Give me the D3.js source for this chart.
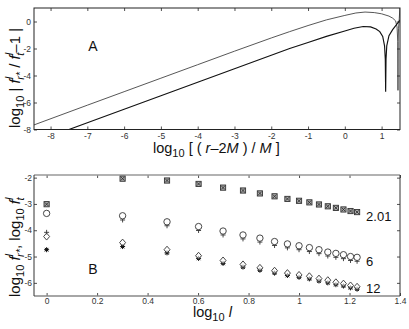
<!DOCTYPE html>
<html><head><meta charset="utf-8">
<script src="https://cdn.jsdelivr.net/npm/d3@7"></script>
<style>
body{margin:0;background:#fff;}
svg{display:block;font-family:"Liberation Sans",Arial,Helvetica,sans-serif;}
</style></head>
<body>
<script>
// ---------- Panel A data: log10|f_r*/f_t - 1| vs log10((r-2M)/M) ----------
const curveUpperX = [-8.45,-7,-6,-5,-4,-3,-2,-1.5,-1,-0.5,0,0.3,0.55,0.8,1.0,1.2,1.3,1.38,1.42,1.44,1.445,1.45,1.46,1.48,1.5];
const curveUpperY = [-7.66,-6.2,-5.2,-4.2,-3.2,-2.2,-1.22,-0.75,-0.3,0.12,0.45,0.63,0.70,0.66,0.57,0.40,0.25,0.05,-0.4,-1.5,-5.1,-1.5,-0.5,0.2,1.2];
const curveLowerX = [-7.5,-7,-6,-5,-4,-3,-2,-1.5,-1,-0.5,0,0.25,0.5,0.7,0.85,0.95,1.03,1.08,1.1,1.11,1.12,1.14,1.2,1.3,1.4,1.5];
const curveLowerY = [-8,-7.5,-6.5,-5.5,-4.5,-3.5,-2.5,-2.0,-1.55,-1.1,-0.7,-0.5,-0.37,-0.4,-0.55,-0.75,-1.1,-1.8,-2.8,-5.2,-2.8,-1.8,-1.05,-0.6,-0.25,0.1];
const ticksAX = [-8,-7,-6,-5,-4,-3,-2,-1,0,1];
const ticksAY = [0,-2,-4,-6,-8];

// ---------- Panel B data: log10 f vs log10 l (l = 1..17) ----------
const log10l = [0,0.301,0.477,0.602,0.699,0.778,0.845,0.903,0.954,1.0,1.041,1.079,1.114,1.146,1.176,1.204,1.230];
const r201_rstar = [-3.01,-2.04,-2.11,-2.24,-2.38,-2.49,-2.60,-2.71,-2.81,-2.88,-2.94,-3.02,-3.09,-3.15,-3.21,-3.27,-3.31];
const r201_t     = [-3.01,-2.04,-2.11,-2.24,-2.38,-2.49,-2.60,-2.71,-2.81,-2.88,-2.94,-3.02,-3.09,-3.15,-3.21,-3.27,-3.31];
const r6_rstar   = [-3.36,-3.45,-3.68,-3.86,-4.03,-4.18,-4.30,-4.43,-4.52,-4.59,-4.66,-4.74,-4.83,-4.88,-4.93,-5.00,-5.03];
const r6_t       = [-4.08,-3.61,-3.83,-4.01,-4.18,-4.33,-4.45,-4.58,-4.67,-4.74,-4.81,-4.89,-4.98,-5.03,-5.08,-5.15,-5.18];
const r12_rstar  = [-4.24,-4.47,-4.74,-4.97,-5.15,-5.30,-5.43,-5.54,-5.63,-5.70,-5.75,-5.84,-5.90,-5.98,-6.03,-6.10,-6.15];
const r12_t      = [-4.74,-4.62,-4.86,-5.07,-5.26,-5.40,-5.52,-5.63,-5.72,-5.79,-5.85,-5.93,-6.00,-6.07,-6.12,-6.19,-6.24];
const seriesLabels = ["2.01","6","12"];
const ticksBX = [0,0.2,0.4,0.6,0.8,1,1.2,1.4];
const ticksBY = [-2,-3,-4,-5,-6];

const W=409,H=329;
const svg=d3.select("body").append("svg").attr("width",W).attr("height",H);
svg.append("rect").attr("width",W).attr("height",H).attr("fill","#fff");
const fmt=d=>String(d);
const tickCol="#333";

function styleAxis(g){
  g.select(".domain").remove();
  g.selectAll(".tick line").attr("stroke","#222").attr("stroke-width",0.8);
  g.selectAll(".tick text").attr("fill",tickCol).attr("font-size",8.5).attr("font-family","Liberation Sans, Arial, sans-serif");
}

// ===== Panel A =====
const xA=d3.scaleLinear().domain([-8.45,1.5]).range([34,400]);
const yA=d3.scaleLinear().domain([-8,1]).range([129.5,8]);
const gA=svg.append("g");
svg.append("clipPath").attr("id","clipA").append("rect")
  .attr("x",34).attr("y",8).attr("width",366).attr("height",121.5);
const lineA=d3.line().x(d=>xA(d[0])).y(d=>yA(d[1]));
gA.append("path").datum(curveUpperX.map((x,i)=>[x,curveUpperY[i]]))
  .attr("d",lineA).attr("fill","none").attr("stroke","#444").attr("stroke-width",0.9).attr("clip-path","url(#clipA)");
gA.append("path").datum(curveLowerX.map((x,i)=>[x,curveLowerY[i]]))
  .attr("d",lineA).attr("fill","none").attr("stroke","#111").attr("stroke-width",1.15).attr("clip-path","url(#clipA)");
gA.append("g").attr("transform","translate(0,129.5)")
  .call(d3.axisBottom(xA).tickValues(ticksAX).tickSize(-3).tickPadding(3).tickFormat(fmt)).call(styleAxis);
gA.append("g").attr("transform","translate(0,8)")
  .call(d3.axisTop(xA).tickValues(ticksAX).tickSize(-3).tickFormat("")).call(styleAxis);
gA.append("g").attr("transform","translate(34,0)")
  .call(d3.axisLeft(yA).tickValues(ticksAY).tickSize(-3).tickPadding(3).tickFormat(fmt)).call(styleAxis);
gA.append("g").attr("transform","translate(400,0)")
  .call(d3.axisRight(yA).tickValues(ticksAY).tickSize(-3).tickFormat("")).call(styleAxis);
gA.append("rect").attr("x",34).attr("y",8).attr("width",366).attr("height",121.5)
  .attr("fill","none").attr("stroke","#222").attr("stroke-width",1);
gA.append("text").attr("x",93).attr("y",51).attr("font-size",14).attr("text-anchor","middle").attr("fill","#111").text("A");
// x label A
const xlA=gA.append("text").attr("x",153).attr("y",153).attr("font-size",14.5).attr("fill","#111");
xlA.append("tspan").text("log");
xlA.append("tspan").attr("font-size",11).attr("dy",4).text("10");
xlA.append("tspan").attr("dy",-4).text(" [ ( ");
xlA.append("tspan").attr("font-style","italic").text("r");
xlA.append("tspan").text("\u20132");
xlA.append("tspan").attr("font-style","italic").text("M");
xlA.append("tspan").text(" ) / ");
xlA.append("tspan").attr("font-style","italic").text("M");
xlA.append("tspan").text(" ]");
// y label A
const ylA=gA.append("text").attr("transform","translate(20,128) rotate(-90)").attr("font-size",15).attr("fill","#111");
ylA.append("tspan").text("log");
ylA.append("tspan").attr("font-size",11).attr("dy",4).text("10");
ylA.append("tspan").attr("dy",-4).text(" | ");
ylA.append("tspan").attr("font-style","italic").text("f");
ylA.append("tspan").attr("font-style","italic").attr("font-size",11).attr("dy",-7).text("l");
ylA.append("tspan").attr("font-style","italic").attr("font-size",11).attr("dx",-3).attr("dy",11).text("r*");
ylA.append("tspan").attr("dy",-4).text(" / ");
ylA.append("tspan").attr("font-style","italic").text("f");
ylA.append("tspan").attr("font-style","italic").attr("font-size",11).attr("dy",-7).text("l");
ylA.append("tspan").attr("font-style","italic").attr("font-size",11).attr("dx",-3).attr("dy",11).text("t");
ylA.append("tspan").attr("dy",-4).text("\u20131 |");

// ===== Panel B =====
const xB=d3.scaleLinear().domain([-0.05,1.4]).range([34,400]);
const yB=d3.scaleLinear().domain([-6.5,-1.9]).range([296,175]);
const gB=svg.append("g");
gB.append("g").attr("transform","translate(0,296)")
  .call(d3.axisBottom(xB).tickValues(ticksBX).tickSize(-3).tickPadding(1.5).tickFormat(fmt)).call(styleAxis);
gB.append("g").attr("transform","translate(0,175)")
  .call(d3.axisTop(xB).tickValues(ticksBX).tickSize(-3).tickFormat("")).call(styleAxis);
gB.append("g").attr("transform","translate(34,0)")
  .call(d3.axisLeft(yB).tickValues(ticksBY).tickSize(-3).tickPadding(2).tickFormat(fmt)).call(styleAxis);
gB.append("g").attr("transform","translate(400,0)")
  .call(d3.axisRight(yB).tickValues(ticksBY).tickSize(-3).tickFormat("")).call(styleAxis);
gB.append("line").attr("x1",34).attr("x2",400).attr("y1",175).attr("y2",175).attr("stroke","#999").attr("stroke-width",1.6);
gB.append("line").attr("x1",34).attr("x2",400).attr("y1",296).attr("y2",296).attr("stroke","#888").attr("stroke-width",1.4);
gB.append("line").attr("x1",34).attr("x2",34).attr("y1",175).attr("y2",296).attr("stroke","#333").attr("stroke-width",1);
gB.append("line").attr("x1",400).attr("x2",400).attr("y1",175).attr("y2",296).attr("stroke","#333").attr("stroke-width",1);

const mk="#333";
// r = 2.01 : boxed x
const sq=gB.append("g");
log10l.forEach((x,i)=>{
  const cx=xB(x), cy=yB(r201_rstar[i]);
  sq.append("rect").attr("x",cx-2.6).attr("y",cy-2.6).attr("width",5.2).attr("height",5.2)
    .attr("fill","#aaa").attr("stroke",mk).attr("stroke-width",0.9);
  const ty=yB(r201_t[i]);
  sq.append("path").attr("d",`M${cx-1.8},${ty-1.8}L${cx+1.8},${ty+1.8}M${cx-1.8},${ty+1.8}L${cx+1.8},${ty-1.8}`)
    .attr("stroke","#222").attr("stroke-width",0.8);
});
// r = 6 : circle (r*) and plus (t)
const c6=gB.append("g");
log10l.forEach((x,i)=>{
  const cx=xB(x);
  const ty=yB(r6_t[i]);
  c6.append("path").attr("d",`M${cx-2.5},${ty}L${cx+2.5},${ty}M${cx},${ty-2.5}L${cx},${ty+2.5}`)
    .attr("stroke","#333").attr("stroke-width",0.9);
  c6.append("circle").attr("cx",cx).attr("cy",yB(r6_rstar[i])).attr("r",3.2)
    .attr("fill","#fff").attr("stroke",mk).attr("stroke-width",0.9);
});
// r = 12 : diamond (r*) and filled star (t)
const d12=gB.append("g");
log10l.forEach((x,i)=>{
  const cx=xB(x);
  const ty=yB(r12_t[i]);
  d12.append("path").attr("d",`M${cx-2.5},${ty}L${cx+2.5},${ty}M${cx},${ty-2.5}L${cx},${ty+2.5}M${cx-1.8},${ty-1.8}L${cx+1.8},${ty+1.8}M${cx-1.8},${ty+1.8}L${cx+1.8},${ty-1.8}`)
    .attr("stroke","#111").attr("stroke-width",1);
  d12.append("rect").attr("x",cx-1.3).attr("y",ty-1.3).attr("width",2.6).attr("height",2.6).attr("fill","#111");
  const dy=yB(r12_rstar[i]);
  d12.append("path").attr("d",`M${cx},${dy-3.5}L${cx+3},${dy}L${cx},${dy+3.5}L${cx-3},${dy}Z`)
    .attr("fill","#fff").attr("fill-opacity",0.6).attr("stroke",mk).attr("stroke-width",0.9);
});
// series labels
const labY=[r201_rstar, r6_rstar, r12_rstar];
const labDy=[9,9,6];
seriesLabels.forEach((s,k)=>{
  const v=labY[k][labY[k].length-1];
  gB.append("text").attr("x",xB(log10l[log10l.length-1])+9).attr("y",yB(v)+labDy[k])
    .attr("font-size",13).attr("fill","#111").text(s);
});
gB.append("text").attr("x",93).attr("y",274).attr("font-size",14).attr("text-anchor","middle").attr("fill","#111").text("B");
// x label B
const xlB=gB.append("text").attr("x",193).attr("y",317).attr("font-size",14.5).attr("fill","#111");
xlB.append("tspan").text("log");
xlB.append("tspan").attr("font-size",11).attr("dy",4).text("10");
xlB.append("tspan").attr("dy",-4).attr("font-style","italic").text(" l");
// y label B
const ylB=gB.append("text").attr("transform","translate(20,297) rotate(-90)").attr("font-size",15).attr("fill","#111");
ylB.append("tspan").text("log");
ylB.append("tspan").attr("font-size",11).attr("dy",4).text("10");
ylB.append("tspan").attr("dy",-4).text(" ");
ylB.append("tspan").attr("font-style","italic").text("f");
ylB.append("tspan").attr("font-style","italic").attr("font-size",11).attr("dy",-7).text("l");
ylB.append("tspan").attr("font-style","italic").attr("font-size",11).attr("dx",-3).attr("dy",11).text("r*");
ylB.append("tspan").attr("dy",-4).text(", log");
ylB.append("tspan").attr("font-size",11).attr("dy",4).text("10");
ylB.append("tspan").attr("dy",-4).text(" ");
ylB.append("tspan").attr("font-style","italic").text("f");
ylB.append("tspan").attr("font-style","italic").attr("font-size",11).attr("dy",-7).text("l");
ylB.append("tspan").attr("font-style","italic").attr("font-size",11).attr("dx",-3).attr("dy",11).text("t");
</script>
</body></html>
